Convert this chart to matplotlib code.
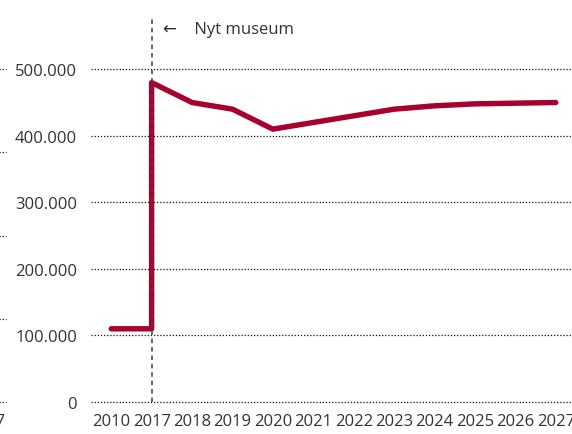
import matplotlib.pyplot as plt
from matplotlib.ticker import FuncFormatter

plt.rcParams['font.family'] = ['Open Sans', 'DejaVu Sans']

# data
years = ['2010', '2017', '2018', '2019', '2020', '2021', '2022', '2023', '2024', '2025', '2026', '2027']
visitors_old = [110000, 110000]          # 2010, 2017 (gammelt museum)
visitors_new = [480000, 450000, 440000, 410000, 420000, 430000, 440000, 445000, 448000, 449000, 450000]  # 2017-2027
y_ticks = [0, 100000, 200000, 300000, 400000, 500000]
museum_year = '2017'

red = '#A8002F'
txt = '#333333'

W, H = 572, 435
fig = plt.figure(figsize=(W / 100, H / 100), dpi=100)

# rest af nabo-diagrammet (beskaaret i venstre kant)
ghost = fig.add_axes([-200 / W, 1 - 403 / H, 206 / W, (403 - 70) / H])
ghost.set_ylim(0, 4)
ghost.set_yticks(range(5))
ghost.set_xlim(0, 1)
ghost.set_xticks([0.905])
ghost.set_xticklabels(['2027'], fontsize=12, color=txt)
ghost.tick_params(length=0, pad=8, labelleft=False)
ghost.grid(axis='y', color='#111111', linestyle=(0, (1, 1.5)), linewidth=0.9)
for g in ghost.yaxis.get_gridlines():
    g.set_clip_on(False)
for s in ghost.spines.values():
    s.set_visible(False)
ghost.patch.set_alpha(0)

ax = fig.add_axes([91 / W, 1 - 403 / H, 485 / W, (403 - 17) / H])
x_old = [0, 1]
x_new = list(range(1, len(years)))
ax.plot(x_old + x_new, visitors_old + visitors_new, color=red, linewidth=3.9,
        solid_capstyle='round', solid_joinstyle='round', zorder=3)

xm = years.index(museum_year)
ax.axvline(xm, color='#444444', linestyle=(0, (3, 2.5)), linewidth=1.1, zorder=4)
ax.text(xm + 0.27, 561000, '←    Nyt museum', fontsize=12, color=txt, va='center', ha='left')

ax.set_xlim(-0.5, len(years) - 0.5)
ax.set_ylim(0, 580000)
ax.set_xticks(range(len(years)))
ax.set_xticklabels(years)
ax.set_yticks(y_ticks)
ax.yaxis.set_major_formatter(FuncFormatter(lambda v, p: f'{int(v):,}'.replace(',', '.')))
ax.tick_params(length=0, labelsize=12, labelcolor=txt)
ax.tick_params(axis='y', pad=10)
ax.tick_params(axis='x', pad=8)
ax.grid(axis='y', color='#111111', linestyle=(0, (1, 1.5)), linewidth=0.9)
for g in ax.yaxis.get_gridlines():
    g.set_clip_on(False)
ax.set_axisbelow(True)
for s in ax.spines.values():
    s.set_visible(False)

fig.savefig('out.png', dpi=100)
